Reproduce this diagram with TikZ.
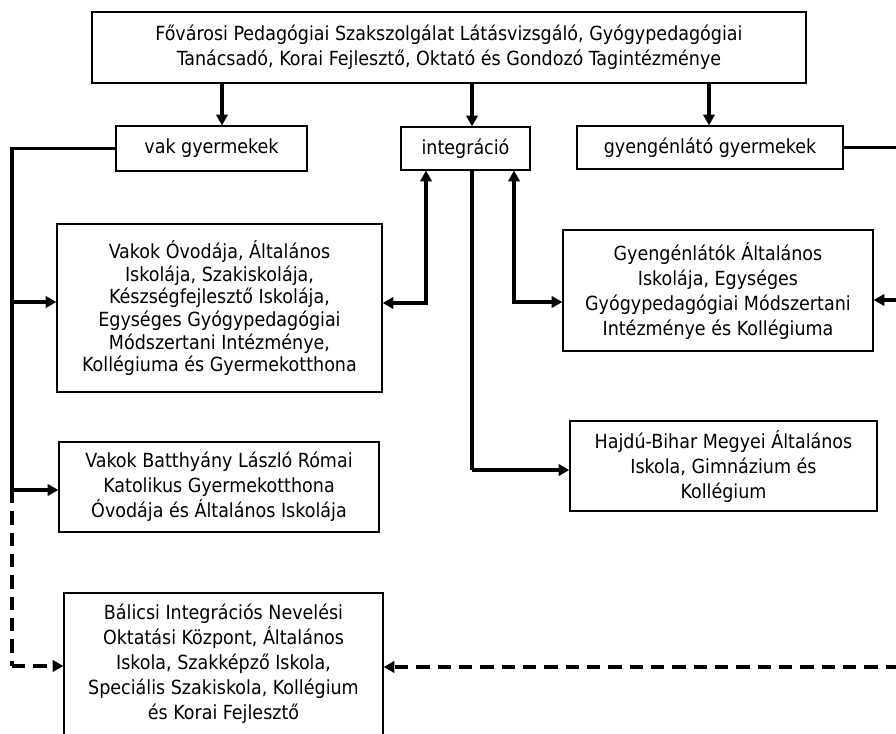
\documentclass[tikz,border=0pt]{standalone}
\usepackage{fontspec}
\setmainfont{DejaVu Sans Condensed}
\usepackage{tikz}
\usetikzlibrary{arrows.meta}

\begin{document}
\begin{tikzpicture}[x=0.75pt,y=-0.75pt,
	box/.style={draw,line width=1pt,inner sep=0pt,align=center,font=\fontsize{14.6}{18.75}\selectfont},
	conn/.style={line width=2.4pt},
	arr/.style={conn,-{Triangle[length=8pt,width=8.5pt]}},
	arrb/.style={conn,{Triangle[length=8pt,width=8.5pt]}-{Triangle[length=8pt,width=8.5pt]}},
	dline/.style={conn,dash pattern=on 10pt off 6pt},
	darr/.style={dline,-{Triangle[length=8pt,width=8.5pt]}}]
	% Rahmen
	\useasboundingbox (0,0) rectangle (896,734);
	\clip (0,0) rectangle (896,734);
	% Kaesten zeichnen
	\node[box,minimum width=535.5pt,minimum height=53.25pt] (top) at (449,47.5) {Fővárosi Pedagógiai Szakszolgálat Látásvizsgáló, Gyógypedagógiai\\Tanácsadó, Korai Fejlesztő, Oktató és Gondozó Tagintézménye};
	\node[box,minimum width=143.25pt,minimum height=33.75pt] (vak) at (211.5,148.5) {vak gyermekek};
	\node[box,minimum width=96.75pt,minimum height=32.25pt] (integ) at (465.5,148.5) {integráció};
	\node[box,minimum width=199.5pt,minimum height=32.25pt] (gyeng) at (710,147.5) {gyengénlátó gyermekek};
	\node[box,minimum width=243.75pt,minimum height=126pt,font=\fontsize{14.6}{17}\selectfont] (vakok) at (219.5,308) {Vakok Óvodája, Általános\\Iskolája, Szakiskolája,\\Készségfejlesztő Iskolája,\\Egységes Gyógypedagógiai\\Módszertani Intézménye,\\Kollégiuma és Gyermekotthona};
	\node[box,minimum width=232.5pt,minimum height=90.75pt] (gyengl) at (718,290.5) {Gyengénlátók Általános\\Iskolája, Egységes\\Gyógypedagógiai Módszertani\\Intézménye és Kollégiuma};
	\node[box,minimum width=230.25pt,minimum height=67.5pt] (hajdu) at (723.5,466) {Hajdú-Bihar Megyei Általános\\Iskola, Gimnázium és\\Kollégium};
	\node[box,minimum width=240pt,minimum height=67.5pt] (batt) at (219,487) {Vakok Batthyány László Római\\Katolikus Gyermekotthona\\Óvodája és Általános Iskolája};
	\node[box,minimum width=239.25pt,minimum height=106.5pt] (balicsi) at (223.5,664) {Bálicsi Integrációs Nevelési\\Oktatási Központ, Általános\\Iskola, Szakképző Iskola,\\Speciális Szakiskola, Kollégium\\és Korai Fejlesztő};
	% Hilfspunkte
	\coordinate (t1) at (222,0);
	\coordinate (t2) at (472,0);
	\coordinate (t3) at (709,0);
	\coordinate (l1) at (12,302);
	\coordinate (l2) at (12,490);
	\coordinate (l3) at (12,666);
	\coordinate (r1) at (899,300);
	\coordinate (r2) at (899,667);
	\coordinate (m1) at (426,303);
	\coordinate (m2) at (472,470);
	\coordinate (m3) at (514,302);
	% Pfeile von oben
	\draw[arr] (t1 |- top.south) -- (t1 |- vak.north);
	\draw[arr] (t2 |- top.south) -- (t2 |- integ.north);
	\draw[arr] (t3 |- top.south) -- (t3 |- gyeng.north);
	% linke Seite
	\draw[conn] (vak.west) -| (l2);
	\draw[arr] (l1) -- (l1 -| vakok.west);
	\draw[arr] (l2) -- (l2 -| batt.west);
	\draw[dline] (l2) -- (l3);
	\draw[darr] (l3) -- (l3 -| balicsi.west);
	% rechte Seite
	\draw[conn] (gyeng.east) -| (r1);
	\draw[arr] (r1) -- (r1 -| gyengl.east);
	\draw[dline] (r1) -- (r2);
	\draw[darr] (r2) -- (r2 -| balicsi.east);
	% Integration
	\draw[arrb] (m1 |- integ.south) -- (m1) -- (m1 -| vakok.east);
	\draw[conn] (m2 |- integ.south) -- (m2);
	\draw[arr] (m2) -- (m2 -| hajdu.west);
	\draw[arrb] (m3 |- integ.south) -- (m3) -- (m3 -| gyengl.west);
\end{tikzpicture}
\end{document}
